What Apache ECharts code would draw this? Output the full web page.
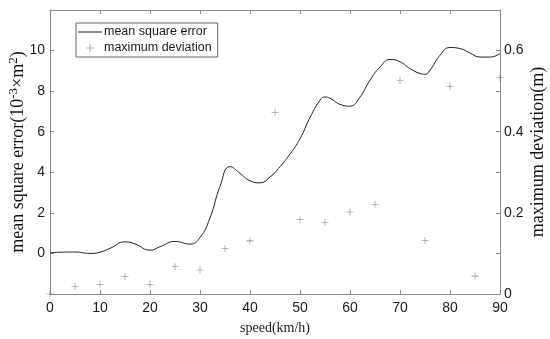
<!DOCTYPE html>
<html>
<head>
<meta charset="utf-8">
<script src="https://cdn.jsdelivr.net/npm/echarts@6/dist/echarts.min.js"></script>
<style>
html,body{margin:0;padding:0;background:#fff;}
#chart{width:550px;height:339px;}
</style>
</head>
<body>
<div id="chart"></div>
<script>
// speed (km/h) for mean square error curve
var mseSpeed = [0, 2, 5, 8, 10, 12, 15, 17, 20, 22, 25, 28, 30, 32, 34, 36, 38, 40, 42, 44, 46, 48, 50, 52, 54, 55, 56, 58, 60, 62, 64, 66, 68, 70, 72, 74, 75, 76, 78, 80, 82, 84, 86, 88, 90];
var mseValue = [0.02, 0.06, 0.07, 0.0, 0.06, 0.25, 0.57, 0.47, 0.16, 0.33, 0.59, 0.46, 0.78, 1.75, 3.3, 4.28, 3.95, 3.58, 3.48, 3.77, 4.27, 4.9, 5.65, 6.7, 7.55, 7.71, 7.65, 7.35, 7.26, 7.71, 8.54, 9.19, 9.56, 9.45, 9.11, 8.87, 8.83, 9.03, 9.77, 10.15, 10.1, 9.88, 9.68, 9.68, 9.85];
// maximum deviation (m) at each speed
var devSpeed = [0, 5, 10, 15, 20, 25, 30, 35, 40, 45, 50, 55, 60, 65, 70, 75, 80, 85, 90];
var devValue = [0.0, 0.018, 0.024, 0.043, 0.024, 0.067, 0.059, 0.112, 0.131, 0.448, 0.183, 0.176, 0.202, 0.221, 0.526, 0.132, 0.512, 0.044, 0.533];
var xTicks = [0, 10, 20, 30, 40, 50, 60, 70, 80, 90];
var leftTickLabels = [0, 2, 4, 6, 8, 10];
var rightTickLabels = [0, 0.2, 0.4, 0.6];

var plusPath = 'path://M4.6,0 H5.4 V4.6 H10 V5.4 H5.4 V10 H4.6 V5.4 H0 V4.6 H4.6 Z';
var linePath = 'path://M0,0 H24 V1 H0 Z';
var axisColor = '#8a8a8a';
var sans = 'Liberation Sans, Arial, sans-serif';
var serif = 'Liberation Serif, Times New Roman, serif';

var chart = echarts.init(document.getElementById('chart'), null, {renderer: 'canvas'});
var option = {
  animation: false,
  backgroundColor: '#ffffff',
  grid: {left: 50, right: 50, top: 10, bottom: 45, containLabel: false, outerBoundsMode: 'none'},
  legend: {
    orient: 'vertical',
    left: 76, top: 23,
    backgroundColor: '#ffffff',
    borderColor: '#666666', borderWidth: 1,
    padding: [2, 6, 2, 2],
    itemWidth: 24, itemHeight: 8, itemGap: 2,
    textStyle: {fontFamily: sans, fontSize: 12.5, color: '#1a1a1a', padding: [0, 0, 0, -3], lineHeight: 14},
    data: [
      {name: 'mean square error', icon: linePath, itemStyle: {color: '#222222'}},
      {name: 'maximum deviation', icon: plusPath}
    ]
  },
  xAxis: [{
    type: 'value', min: 0, max: 90, interval: 10, position: 'bottom',
    axisLine: {show: true, onZero: false, lineStyle: {color: axisColor, width: 1}},
    axisTick: {show: true, inside: true, length: 4, lineStyle: {color: axisColor}},
    axisLabel: {fontFamily: sans, fontSize: 14, color: '#1a1a1a', margin: 7,
      formatter: function (v) { return xTicks.indexOf(v) >= 0 ? String(v) : ''; }},
    splitLine: {show: false},
    name: 'speed(km/h)', nameLocation: 'middle', nameGap: 27, nameMoveOverlap: false,
    nameTextStyle: {fontFamily: serif, fontSize: 14, color: '#1a1a1a'}
  }, {
    type: 'value', min: 0, max: 90, interval: 10, position: 'top',
    axisLine: {show: true, onZero: false, lineStyle: {color: axisColor, width: 1}},
    axisTick: {show: true, inside: true, length: 4, lineStyle: {color: axisColor}},
    axisLabel: {show: false},
    splitLine: {show: false}
  }],
  yAxis: [{
    type: 'value', min: -2, max: 12, interval: 2, position: 'left',
    axisLine: {show: true, onZero: false, lineStyle: {color: axisColor, width: 1}},
    axisTick: {show: true, inside: true, length: 4, lineStyle: {color: axisColor}},
    axisLabel: {fontFamily: sans, fontSize: 14, color: '#1a1a1a', margin: 5,
      formatter: function (v) { return leftTickLabels.indexOf(v) >= 0 ? String(v) : ''; }},
    splitLine: {show: false},
    name: '{a|mean square error(10}{s|-3}{a|×m}{s|2}{a|)}',
    nameLocation: 'middle', nameRotate: 90, nameGap: 23, nameMoveOverlap: false,
    nameTextStyle: {
      rich: {
        a: {fontFamily: serif, fontSize: 18, color: '#111', verticalAlign: 'bottom', lineHeight: 20},
        s: {fontFamily: serif, fontSize: 13, color: '#111', verticalAlign: 'top', lineHeight: 12}
      }
    }
  }, {
    type: 'value', min: 0, max: 0.7, interval: 0.1, position: 'right',
    axisLine: {show: true, onZero: false, lineStyle: {color: axisColor, width: 1}},
    axisTick: {show: true, inside: true, length: 4, lineStyle: {color: axisColor}},
    axisLabel: {fontFamily: sans, fontSize: 14, color: '#1a1a1a', margin: 4,
      formatter: function (v) {
        var r = Math.round(v * 10) / 10;
        return rightTickLabels.indexOf(r) >= 0 ? String(r) : '';
      }},
    splitLine: {show: false},
    name: 'maximum deviation(m)',
    nameLocation: 'middle', nameRotate: 90, nameGap: 29, nameMoveOverlap: false,
    nameTextStyle: {fontFamily: serif, fontSize: 18, color: '#111'}
  }],
  series: [{
    name: 'mean square error',
    type: 'line',
    xAxisIndex: 0, yAxisIndex: 0,
    smooth: 0.5,
    symbol: 'none',
    lineStyle: {color: '#222222', width: 1},
    itemStyle: {color: '#222222'},
    data: mseSpeed.map(function (s, i) { return [s, mseValue[i]]; })
  }, {
    name: 'maximum deviation',
    type: 'scatter',
    xAxisIndex: 0, yAxisIndex: 1,
    symbol: plusPath,
    symbolSize: 7,
    itemStyle: {color: '#555555'},
    data: devSpeed.map(function (s, i) { return [s, devValue[i]]; })
  }]
};
chart.setOption(option);
</script>
</body>
</html>
